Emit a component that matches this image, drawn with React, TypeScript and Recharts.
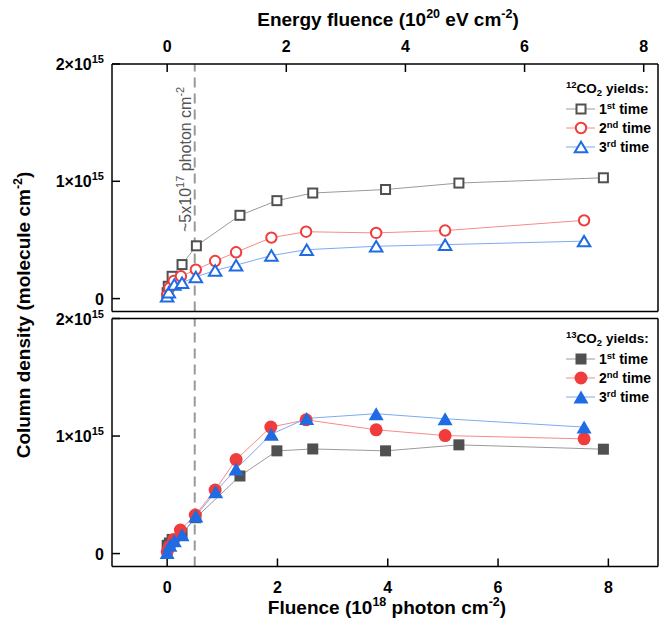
import React from 'react';
import { LineChart, Line, XAxis, YAxis, ReferenceLine } from 'recharts';

const FONT = '"Liberation Sans", Arial, Helvetica, sans-serif';

// x: fluence (10^18 photon cm^-2); y: column density (10^15 molecule cm^-2)
const c12FirstX = [0, 0.02, 0.09, 0.27, 0.53, 1.32, 1.99, 2.64, 3.96, 5.29, 7.91];
const c12FirstY = [0.05, 0.105, 0.19, 0.29, 0.45, 0.71, 0.835, 0.9, 0.93, 0.985, 1.03];
const c12SecondX = [0, 0.04, 0.12, 0.25, 0.52, 0.87, 1.25, 1.89, 2.52, 3.79, 5.04, 7.56];
const c12SecondY = [0.03, 0.09, 0.15, 0.19, 0.247, 0.32, 0.395, 0.52, 0.57, 0.56, 0.58, 0.667];
const c12ThirdX = [0, 0.03, 0.13, 0.27, 0.52, 0.87, 1.25, 1.89, 2.53, 3.79, 5.04, 7.56];
const c12ThirdY = [0.02, 0.055, 0.12, 0.135, 0.185, 0.24, 0.285, 0.367, 0.417, 0.446, 0.46, 0.49];

const c13FirstX = [0, 0.04, 0.09, 0.27, 0.52, 1.32, 1.99, 2.64, 3.96, 5.29, 7.91];
const c13FirstY = [0.07, 0.09, 0.12, 0.17, 0.305, 0.66, 0.874, 0.89, 0.874, 0.925, 0.888];
const c13SecondX = [0, 0.04, 0.12, 0.24, 0.51, 0.87, 1.25, 1.88, 2.52, 3.79, 5.04, 7.56];
const c13SecondY = [0.015, 0.06, 0.12, 0.2, 0.328, 0.54, 0.8, 1.076, 1.138, 1.053, 1.004, 0.976];
const c13ThirdX = [0, 0.05, 0.13, 0.27, 0.52, 0.88, 1.25, 1.89, 2.53, 3.79, 5.04, 7.56];
const c13ThirdY = [0.01, 0.07, 0.11, 0.16, 0.32, 0.527, 0.72, 1.016, 1.15, 1.19, 1.147, 1.076];

const photonMajor = [0, 2, 4, 6, 8];
const photonMinor = [1, 3, 5, 7];
const energyMajor = [0, 2, 4, 6, 8];
const energyMinor = [1, 3, 5, 7];
const densityMajor = [0, 1, 2];
const densityMinor = [0.5, 1.5];
const seriesNames = ['1st time', '2nd time', '3rd time'];

const PHOTON_DOMAIN: [number, number] = [-1, 8.9];
const ENERGY_DOMAIN: [number, number] = [-0.926, 8.24];
const DENSITY_DOMAIN: [number, number] = [-0.11, 2];

const zip = (xs: number[], ys: number[]) => xs.map((x, i) => ({ x, y: ys[i] }));

const MARK = ['#505050', '#f03c3c', '#1f6be3'];
const LINE = ['#9a9a9a', '#f78a8a', '#7eaaf0'];
const KIND = ['square', 'circle', 'triangle'];
const EPS = 0.001;

function Marker({ kind, filled, color, cx, cy }: any) {
  if (cx == null || cy == null) return null;
  if (kind === 'square') {
    const s = filled ? 11 : 9;
    return (
      <rect x={cx - s / 2} y={cy - s / 2} width={s} height={s}
        fill={filled ? color : '#fff'} stroke={color} strokeWidth={filled ? 0 : 2} />
    );
  }
  if (kind === 'circle') {
    const r = filled ? 6.5 : 5.2;
    return <circle cx={cx} cy={cy} r={r} fill={filled ? color : '#fff'} stroke={color} strokeWidth={filled ? 0 : 2} />;
  }
  const w = filled ? 15 : 12.5;
  const h = filled ? 13 : 10.5;
  const pts = `${cx},${cy - h / 2} ${cx - w / 2},${cy + h / 2} ${cx + w / 2},${cy + h / 2}`;
  return <polygon points={pts} fill={filled ? color : '#fff'} stroke={color} strokeWidth={filled ? 0 : 2} strokeLinejoin="miter" />;
}

const XTick = (props: any) => {
  const { x, y, payload } = props;
  return (
    <text x={x} y={y} textAnchor="middle" fontSize={16} fontWeight="bold" fill="#000" fontFamily={FONT}>
      {payload.value}
    </text>
  );
};

const YTick = (props: any) => {
  const { x, y, payload } = props;
  const v = payload.value;
  if (v === 0) {
    return (
      <text x={x} y={y + 6} textAnchor="end" fontSize={16} fontWeight="bold" fill="#000" fontFamily={FONT}>0</text>
    );
  }
  return (
    <text x={x} y={y + 6} textAnchor="end" fontSize={16} fontWeight="bold" fill="#000" fontFamily={FONT}>
      {v}×10<tspan dy={-7} fontSize={11}>15</tspan>
    </text>
  );
};

const RefLabel = (props: any) => {
  const vb = props.viewBox || {};
  const x = (vb.x ?? 0) - 4;
  const y = (vb.y ?? 0) + 168;
  return (
    <text transform={`translate(${x},${y}) rotate(-90)`} fontSize={16} fill="#555" fontFamily={FONT}>
      ~5x10<tspan dy={-7} fontSize={11}>17</tspan>
      <tspan dy={7}> photon cm</tspan>
      <tspan dy={-7} fontSize={11}>-2</tspan>
    </text>
  );
};

function Panel({ data, filled, height, margin, topEnergy, bottomLabels, showRefLabel }: any) {
  const axisLine = { stroke: '#000', strokeWidth: 1.5 };
  const tickLine = { stroke: '#000', strokeWidth: 1.5 };
  return (
    <LineChart width={660} height={height} margin={margin} style={{ fontFamily: FONT }}>
      <XAxis xAxisId="ph" dataKey="x" type="number" allowDataOverflow interval={0}
        domain={PHOTON_DOMAIN} ticks={photonMajor} orientation="bottom" height={EPS}
        tickSize={-8} tickMargin={34.5} axisLine={axisLine} tickLine={tickLine}
        tick={bottomLabels ? XTick : false} />
      <XAxis xAxisId="phMinor" dataKey="x" type="number" allowDataOverflow interval={0}
        domain={PHOTON_DOMAIN} ticks={photonMinor} orientation="bottom" height={EPS}
        tickSize={-4.5} axisLine={false} tickLine={tickLine} tick={false} />
      <XAxis xAxisId="top" dataKey="x" type="number" allowDataOverflow interval={0}
        domain={topEnergy ? ENERGY_DOMAIN : PHOTON_DOMAIN} ticks={topEnergy ? energyMajor : photonMajor}
        orientation="top" height={EPS} tickSize={-8} tickMargin={20.5} axisLine={axisLine} tickLine={tickLine}
        tick={topEnergy ? XTick : false} />
      <XAxis xAxisId="topMinor" dataKey="x" type="number" allowDataOverflow interval={0}
        domain={topEnergy ? ENERGY_DOMAIN : PHOTON_DOMAIN} ticks={topEnergy ? energyMinor : photonMinor}
        orientation="top" height={EPS} tickSize={-4.5} axisLine={false} tickLine={tickLine} tick={false} />
      <YAxis yAxisId="l" type="number" allowDataOverflow interval={0} domain={DENSITY_DOMAIN}
        ticks={densityMajor} orientation="left" width={EPS} tickSize={-8} tickMargin={16}
        axisLine={axisLine} tickLine={tickLine} tick={YTick} />
      <YAxis yAxisId="lMinor" type="number" allowDataOverflow interval={0} domain={DENSITY_DOMAIN}
        ticks={densityMinor} orientation="left" width={EPS} tickSize={-4.5}
        axisLine={false} tickLine={tickLine} tick={false} />
      <YAxis yAxisId="r" type="number" allowDataOverflow interval={0} domain={DENSITY_DOMAIN}
        ticks={densityMajor} orientation="right" width={EPS} tickSize={-8}
        axisLine={axisLine} tickLine={tickLine} tick={false} />
      <YAxis yAxisId="rMinor" type="number" allowDataOverflow interval={0} domain={DENSITY_DOMAIN}
        ticks={densityMinor} orientation="right" width={EPS} tickSize={-4.5}
        axisLine={false} tickLine={tickLine} tick={false} />
      <ReferenceLine xAxisId="ph" yAxisId="l" x={0.5} stroke="#9a9a9a" strokeWidth={2}
        strokeDasharray="10 6" label={showRefLabel ? RefLabel : undefined} />
      {data.map((d: any[], i: number) => (
        <Line key={i} xAxisId="ph" yAxisId="l" data={d} dataKey="y" type="linear"
          stroke={LINE[i]} strokeWidth={1} isAnimationActive={false} activeDot={false}
          dot={(p: any) => <Marker key={`m${i}-${p.index}`} kind={KIND[i]} filled={filled} color={MARK[i]} cx={p.cx} cy={p.cy} />} />
      ))}
    </LineChart>
  );
}

function LegendBlock({ x, y, iso, filled }: any) {
  return (
    <g fontFamily={FONT} fontWeight="bold" fill="#000">
      <text x={x} y={y + 5} fontSize={13.5}>
        <tspan fontSize={9.5} dy={-5}>{iso}</tspan>
        <tspan dy={5}>CO</tspan>
        <tspan fontSize={9.5} dy={3}>2</tspan>
        <tspan dy={-3}> yields:</tspan>
      </text>
      {seriesNames.map((name, i) => {
        const cy = y + 21 + i * 19;
        const num = name.slice(0, 1);
        const suf = name.slice(1, 3);
        return (
          <g key={name}>
            <line x1={x} x2={x + 29} y1={cy} y2={cy} stroke={LINE[i]} strokeWidth={1} />
            <Marker kind={KIND[i]} filled={filled} color={MARK[i]} cx={x + 15} cy={cy} />
            <text x={x + 33} y={cy + 5} fontSize={14}>
              {num}<tspan fontSize={9.5} dy={-5}>{suf}</tspan><tspan dy={5}> time</tspan>
            </text>
          </g>
        );
      })}
    </g>
  );
}

export default function App() {
  const topData = [zip(c12FirstX, c12FirstY), zip(c12SecondX, c12SecondY), zip(c12ThirdX, c12ThirdY)];
  const botData = [zip(c13FirstX, c13FirstY), zip(c13SecondX, c13SecondY), zip(c13ThirdX, c13ThirdY)];
  return (
    <div style={{ position: 'absolute', left: 0, top: 0, width: 660, height: 620, background: '#fff', fontFamily: FONT }}>
      <div style={{ position: 'absolute', left: 0, top: 0 }}>
        <Panel data={topData} filled={false} height={316}
          margin={{ top: 64, right: 2, bottom: 4.5, left: 112 }} topEnergy bottomLabels={false} showRefLabel />
      </div>
      <div style={{ position: 'absolute', left: 0, top: 290 }}>
        <Panel data={botData} filled height={330}
          margin={{ top: 28.5, right: 2, bottom: 53.5, left: 112 }} topEnergy={false} bottomLabels showRefLabel={false} />
      </div>
      <svg width={660} height={620} style={{ position: 'absolute', left: 0, top: 0, pointerEvents: 'none' }}>
        <text x={388} y={26} textAnchor="middle" fontSize={19} fontWeight="bold" fontFamily={FONT} fill="#000">
          Energy fluence (10<tspan dy={-8} fontSize={12.5}>20</tspan>
          <tspan dy={8}> eV cm</tspan>
          <tspan dy={-8} fontSize={12.5}>-2</tspan>
          <tspan dy={8}>)</tspan>
        </text>
        <text x={387} y={614} textAnchor="middle" fontSize={19} fontWeight="bold" fontFamily={FONT} fill="#000">
          Fluence (10<tspan dy={-8} fontSize={12.5}>18</tspan>
          <tspan dy={8}> photon cm</tspan>
          <tspan dy={-8} fontSize={12.5}>-2</tspan>
          <tspan dy={8}>)</tspan>
        </text>
        <text transform="translate(30,315) rotate(-90)" textAnchor="middle" fontSize={19} fontWeight="bold" fontFamily={FONT} fill="#000">
          Column density (molecule cm<tspan dy={-8} fontSize={12.5}>-2</tspan>
          <tspan dy={8}>)</tspan>
        </text>
        <LegendBlock x={566} y={88} iso="12" filled={false} />
        <LegendBlock x={566} y={338} iso="13" filled />
      </svg>
    </div>
  );
}
